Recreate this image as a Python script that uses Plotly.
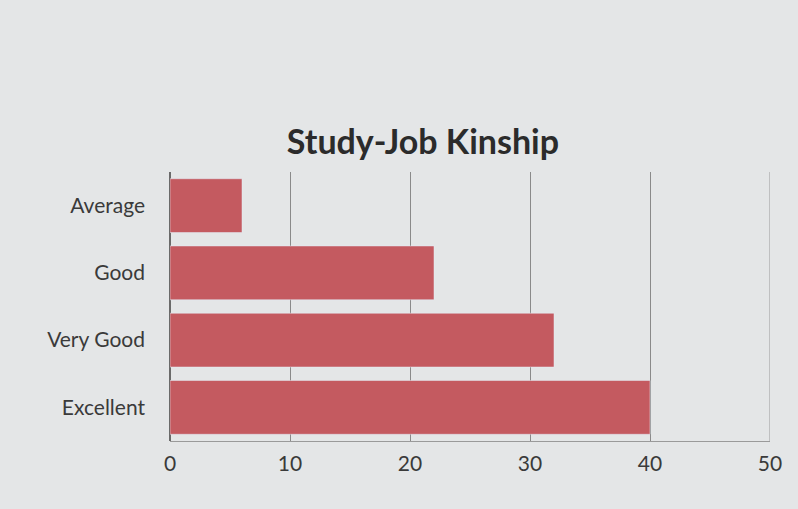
import plotly.graph_objects as go

categories = ["Average", "Good", "Very Good", "Excellent"]
values = [6, 22, 32, 40]
x_ticks = [0, 10, 20, 30, 40, 50]

fig = go.Figure(
    go.Bar(
        x=values,
        y=categories,
        orientation="h",
        marker_color="#c45a60",
        width=0.8,
    )
)

fig.update_layout(
    width=798,
    height=509,
    title=dict(
        text="<b>Study-Job Kinship</b>",
        x=0.53,
        xanchor="center",
        y=0.72,
        yanchor="middle",
        font=dict(family="Lato", size=34, color="#2b2b2b"),
    ),
    paper_bgcolor="#e4e6e7",
    plot_bgcolor="#e4e6e7",
    margin=dict(l=170, r=28, t=172, b=68),
    font=dict(family="Lato", size=21, color="#3a3a3a"),
    showlegend=False,
    bargap=0.2,
)

fig.update_xaxes(
    range=[0, 50],
    tickvals=x_ticks,
    showgrid=True,
    gridcolor="#8a8a8a",
    gridwidth=1,
    zeroline=True,
    zerolinecolor="#6a6a6a",
    showline=True,
    linecolor="#9a9a9a",
    mirror=False,
    ticks="",
    ticklabelstandoff=4,
)
fig.update_yaxes(
    categoryorder="array",
    categoryarray=categories,
    autorange="reversed",
    ticks="",
    ticklabelstandoff=24,
    showgrid=False,
)

# right border of the plot area
fig.add_vline(x=50, line_color="#9a9a9a", line_width=1)

fig.write_html(
    "out.html",
    config={"displayModeBar": False},
    post_script="document.body.style.margin='0';document.body.style.background='#e4e6e7';",
)
